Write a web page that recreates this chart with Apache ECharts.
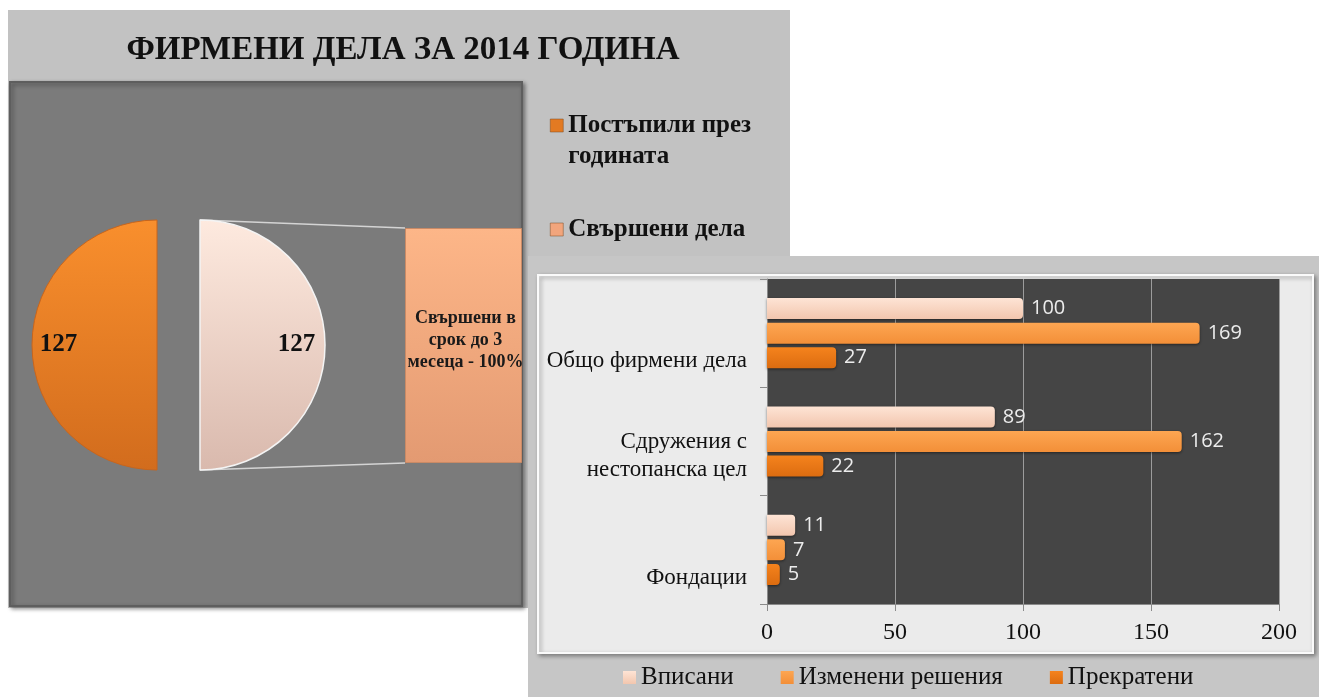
<!DOCTYPE html>
<html>
<head>
<meta charset="utf-8">
<script src="https://cdn.jsdelivr.net/npm/echarts@6/dist/echarts.min.js"></script>
<style>
  html, body { margin: 0; padding: 0; background: #fff; }
  #chart { width: 1319px; height: 697px; }
</style>
</head>
<body>
<div id="chart"></div>
<script>
// данни - pie (bar of pie)
var TITLE = 'ФИРМЕНИ ДЕЛА ЗА 2014 ГОДИНА';
var PIE_NAMES = ['Постъпили през годината', 'Свършени дела'];
var PIE_VALUES = [127, 127];
var BOX_CATEGORY = ['Свършени в срок'];
var BOX_VALUES = [100];
var BOX_LABEL_LINES = ['Свършени в', 'срок до 3', 'месеца - 100%'];

// данни - хоризонтални колони
var CATEGORIES = ['Фондации', 'Сдружения с\nнестопанска цел', 'Общо фирмени дела'];
var SERIES_NAMES = ['Вписани', 'Изменени решения', 'Прекратени'];
var VAL_VPISANI = [11, 89, 100];
var VAL_IZMENENI = [7, 162, 169];
var VAL_PREKRATENI = [5, 22, 27];
var X_TICKS = [0, 50, 100, 150, 200];

var SERIF = '"Liberation Serif", "DejaVu Serif", serif';
var SANS = '"Open Sans", "Noto Sans", sans-serif';

// layout
var PIE_C = [157, 345], PIE_R = 125, EXPLODE = 43;
var BOX = { left: 405, top: 228, width: 117, height: 235 };
var BAR_GRID = { left: 767, top: 279, width: 512, height: 325 };

function grad(c1, c2) {
    return new echarts.graphic.LinearGradient(0, 0, 0, 1, [
        { offset: 0, color: c1 }, { offset: 1, color: c2 }
    ]);
}

var chart = echarts.init(document.getElementById('chart'));

var option = {
    animation: false,
    graphic: [
        // лява рамка
        { type: 'rect', z: -10, silent: true, shape: { x: 8, y: 10, width: 782, height: 598 },
          style: { fill: '#c2c2c2' } },
        { type: 'rect', z: -9, silent: true, shape: { x: 10, y: 82, width: 512, height: 524 },
          style: { fill: '#7b7b7b', stroke: '#5e5e5e', lineWidth: 2,
                   shadowBlur: 4, shadowColor: 'rgba(0,0,0,0.4)', shadowOffsetX: 2, shadowOffsetY: 2 } },
        { type: 'text', z: 5, silent: true, x: 403, y: 50,
          style: { text: TITLE, font: 'bold 33px ' + SERIF, fill: '#111', align: 'center', verticalAlign: 'middle' } },
        // свързващи линии
        { type: 'line', z: 1, silent: true,
          shape: { x1: PIE_C[0] + EXPLODE, y1: PIE_C[1] - PIE_R, x2: BOX.left, y2: BOX.top },
          style: { stroke: '#d4d4d4', lineWidth: 1.5 } },
        { type: 'line', z: 1, silent: true,
          shape: { x1: PIE_C[0] + EXPLODE, y1: PIE_C[1] + PIE_R, x2: BOX.left, y2: BOX.top + BOX.height },
          style: { stroke: '#d4d4d4', lineWidth: 1.5 } },
        // дясна рамка
        { type: 'rect', z: -8, silent: true, shape: { x: 528, y: 256, width: 791, height: 441 },
          style: { fill: '#c6c6c6' } },
        { type: 'rect', z: -7, silent: true, shape: { x: 538, y: 275, width: 775, height: 378 },
          style: { fill: '#ebebeb', stroke: '#fafafa', lineWidth: 2,
                   shadowBlur: 4, shadowColor: 'rgba(0,0,0,0.35)', shadowOffsetX: 2, shadowOffsetY: 2 } }
    ],
    legend: [
        {
            orient: 'vertical',
            left: 545,
            top: 74,
            itemGap: 42,
            itemWidth: 13,
            itemHeight: 13,
            itemStyle: { borderColor: '#7a4a20', borderWidth: 0.5 },
            icon: 'rect',
            data: [
                { name: PIE_NAMES[0], itemStyle: { color: '#e37a22' } },
                { name: PIE_NAMES[1], itemStyle: { color: '#f2a57c' } }
            ],
            formatter: function (name) {
                return name === PIE_NAMES[0] ? ' \nПостъпили през\nгодината' : name;
            },
            textStyle: { fontFamily: SERIF, fontSize: 25, fontWeight: 'bold', color: '#111', lineHeight: 31 }
        },
        {
            left: 618,
            top: 660,
            itemGap: 47,
            itemWidth: 13,
            itemHeight: 13,
            icon: 'rect',
            data: SERIES_NAMES,
            textStyle: { fontFamily: SERIF, fontSize: 25, color: '#111' }
        }
    ],
    grid: [
        { left: BOX.left, top: BOX.top, width: BOX.width, height: BOX.height },
        { left: BAR_GRID.left, top: BAR_GRID.top, width: BAR_GRID.width, height: BAR_GRID.height,
          show: true, backgroundColor: '#454545', borderWidth: 0 }
    ],
    xAxis: [
        { gridIndex: 0, type: 'category', data: BOX_CATEGORY, show: false },
        {
            gridIndex: 1, type: 'value',
            min: X_TICKS[0], max: X_TICKS[X_TICKS.length - 1], interval: X_TICKS[1] - X_TICKS[0],
            axisLine: { show: true, lineStyle: { color: '#8a8a8a' } },
            axisTick: { show: true, length: 7, lineStyle: { color: '#8a8a8a' } },
            splitLine: { show: true, lineStyle: { color: '#9c9c9c', width: 1 } },
            axisLabel: { fontFamily: SERIF, fontSize: 24, color: '#111', margin: 17 }
        }
    ],
    yAxis: [
        { gridIndex: 0, type: 'value', min: 0, max: 100, show: false },
        {
            gridIndex: 1, type: 'category', data: CATEGORIES,
            axisLine: { show: true, lineStyle: { color: '#8a8a8a' } },
            axisTick: { show: true, length: 7, lineStyle: { color: '#8a8a8a' } },
            axisLabel: {
                interval: 0,
                fontFamily: SERIF, fontSize: 23, color: '#111', margin: 20, align: 'right', lineHeight: 28,
                // Excel поставя последния ред малко под средата на групата
                formatter: function (v) {
                    var lines = v.split('\n');
                    while (lines.length < 3) lines.unshift(' ');
                    return lines.join('\n');
                }
            }
        }
    ],
    series: [
        {
            type: 'pie',
            name: 'Фирмени дела',
            center: PIE_C,
            radius: [0, PIE_R],
            startAngle: 90,
            clockwise: false,
            selectedMode: 'single',
            selectedOffset: EXPLODE,
            label: {
                position: 'inside',
                formatter: '{c}',
                fontFamily: SERIF, fontSize: 25, fontWeight: 'bold', color: '#111'
            },
            labelLayout: function (p) {
                return { dx: p.dataIndex === 0 ? -33 : 31 };
            },
            data: [
                { name: PIE_NAMES[0], value: PIE_VALUES[0],
                  itemStyle: { color: grad('#f98f2d', '#d26c1d'), borderColor: '#c8651c', borderWidth: 1 } },
                { name: PIE_NAMES[1], value: PIE_VALUES[1], selected: true,
                  itemStyle: { color: grad('#feeadf', '#d9b9ad'), borderColor: '#f4f4f4', borderWidth: 1.5 },
                  select: { itemStyle: { color: grad('#feeadf', '#d9b9ad'), borderColor: '#f4f4f4', borderWidth: 1.5 } } }
            ]
        },
        {
            type: 'bar',
            name: 'Свършени в срок',
            xAxisIndex: 0, yAxisIndex: 0,
            barWidth: '100%',
            data: BOX_VALUES,
            itemStyle: { color: grad('#fdb688', '#e39a72'), borderColor: '#c98a66', borderWidth: 1 },
            label: {
                show: true, position: 'inside',
                formatter: BOX_LABEL_LINES.join('\n'),
                fontFamily: SERIF, fontSize: 18, fontWeight: 'bold', color: '#1a1a1a', lineHeight: 22,
                offset: [2, -5]
            }
        },
        {
            type: 'bar', name: SERIES_NAMES[0], xAxisIndex: 1, yAxisIndex: 1,
            data: VAL_VPISANI, barWidth: 21, barGap: '17%',
            itemStyle: { color: grad('#fee4d5', '#f2c6ae'), borderRadius: [0, 4, 4, 0],
                         shadowBlur: 3, shadowColor: 'rgba(0,0,0,0.5)', shadowOffsetY: 1 },
            label: { show: true, position: 'right', distance: 8, fontFamily: SANS, fontSize: 20, color: '#ececec' }
        },
        {
            type: 'bar', name: SERIES_NAMES[1], xAxisIndex: 1, yAxisIndex: 1,
            data: VAL_IZMENENI, barWidth: 21, barGap: '17%',
            itemStyle: { color: grad('#fda652', '#f38f38'), borderRadius: [0, 4, 4, 0],
                         shadowBlur: 3, shadowColor: 'rgba(0,0,0,0.5)', shadowOffsetY: 1 },
            label: { show: true, position: 'right', distance: 8, fontFamily: SANS, fontSize: 20, color: '#ececec' }
        },
        {
            type: 'bar', name: SERIES_NAMES[2], xAxisIndex: 1, yAxisIndex: 1,
            data: VAL_PREKRATENI, barWidth: 21, barGap: '17%',
            itemStyle: { color: grad('#f5831d', '#dc6c10'), borderRadius: [0, 4, 4, 0],
                         shadowBlur: 3, shadowColor: 'rgba(0,0,0,0.5)', shadowOffsetY: 1 },
            label: { show: true, position: 'right', distance: 8, fontFamily: SANS, fontSize: 20, color: '#ececec' }
        }
    ]
};

chart.setOption(option);
window.addEventListener('resize', function () {
    chart.resize();
});
</script>
</body>
</html>
